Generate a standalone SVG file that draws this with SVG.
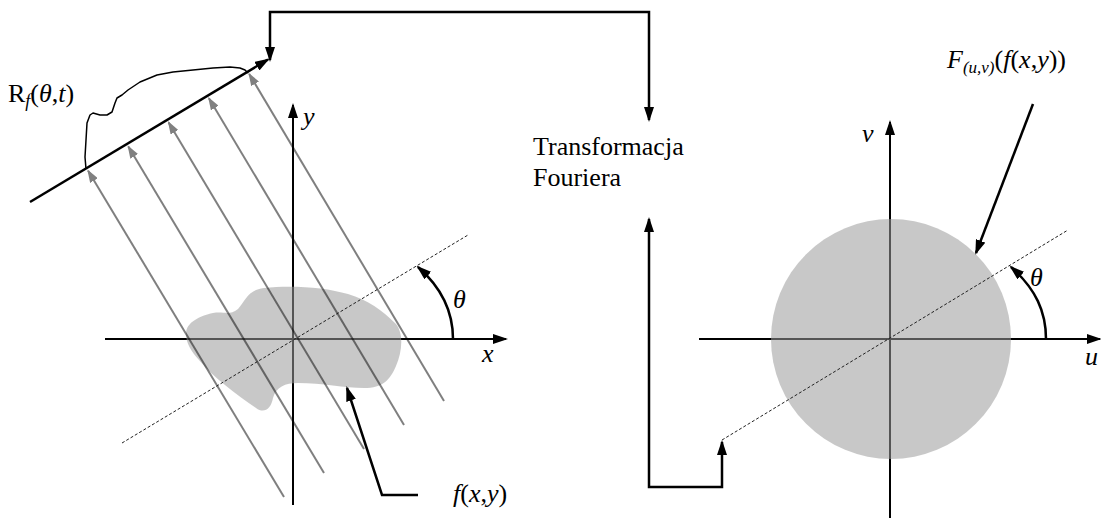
<svg xmlns="http://www.w3.org/2000/svg" width="1101" height="520" viewBox="0 0 1101 520">
<style>
.ax{stroke:#000;stroke-width:2;fill:none}
.con{stroke:#000;stroke-width:2.5;fill:none}
.ray{stroke:#000;stroke-opacity:0.5;stroke-width:2;fill:none}
.dash{stroke:#222;stroke-width:1;stroke-dasharray:3 2;fill:none}
.shade{fill:#9b9b9b;fill-opacity:0.55;stroke:none}
.t{font-family:"Liberation Serif","Times New Roman",serif;font-size:26px;fill:#000}
.i{font-style:italic}
</style>
<defs>
<marker id="ah" markerUnits="userSpaceOnUse" markerWidth="15" markerHeight="10" refX="13" refY="5" orient="auto-start-reverse"><path d="M0,0 L15,5 L0,10 z" fill="#000"/></marker>
<marker id="ag" markerUnits="userSpaceOnUse" markerWidth="13" markerHeight="9" refX="11.5" refY="4.5" orient="auto"><path d="M0,0 L13,4.5 L0,9 z" fill="#808080"/></marker>
</defs>
<rect width="1101" height="520" fill="#fff"/>

<g id="left-plot">
<line class="ax" x1="105" y1="339" x2="506" y2="339" marker-end="url(#ah)"/>
<line class="ax" x1="293" y1="505" x2="293" y2="105" marker-end="url(#ah)"/>
<path id="object-f" class="shade" d="M186,334 C186,322 200,316 213,313 C224,311 229,316 238,309 C246,300 248,290 264,288 C290,285 325,287 348,294 C368,300 382,310 396,324 C404,334 402,352 396,366 C390,380 383,388 364,388 C345,388 322,383 298,383 C285,383 276,387 273,398 C271,409 264,414 256,408 C236,394 214,378 199,360 C191,351 186,343 186,334 Z"/>
<g id="rays">
<line class="ray" x1="284" y1="497" x2="88.1" y2="170.7" marker-end="url(#ag)"/>
<line class="ray" x1="324" y1="473" x2="128.3" y2="146.5" marker-end="url(#ag)"/>
<line class="ray" x1="364" y1="449" x2="168.6" y2="122.4" marker-end="url(#ag)"/>
<line class="ray" x1="404" y1="425" x2="208.9" y2="98.2" marker-end="url(#ag)"/>
<line class="ray" x1="444" y1="401" x2="249.2" y2="74" marker-end="url(#ag)"/>
</g>
<line class="dash" x1="122" y1="443" x2="468" y2="235"/>
<path class="con" d="M453,339 C453,312 442,288 418,267" stroke-width="2.2" marker-end="url(#ah)"/>
<line id="detector" class="con" x1="30" y1="202" x2="268" y2="59.5" marker-end="url(#ah)"/>
<polyline id="projection" fill="none" stroke="#000" stroke-width="1.5" stroke-linejoin="round" points="86,169 85,157 86,140 87,123 90,115 93,113 100,115 107,115 112,112 115,103 117,98 122,95 128,90 140,82 157,75 173,72 193,70 213,68 230,67 240,68 245,70 248,73"/>
<text class="t" x="8" y="102">R<tspan class="i" font-size="18" dy="5">f</tspan><tspan dy="-5">(</tspan><tspan class="i">θ</tspan>,<tspan class="i">t</tspan>)</text>
<text class="t i" x="303" y="125">y</text>
<text class="t i" x="482" y="362">x</text>
<text class="t i" x="453" y="308">θ</text>
<text class="t" x="453" y="502"><tspan class="i">f</tspan>(<tspan class="i">x</tspan>,<tspan class="i">y</tspan>)</text>
</g>

<g id="label-transform">
<text class="t" x="533" y="155">Transformacja</text>
<text class="t" x="533" y="186">Fouriera</text>
</g>

<g id="right-plot">
<line class="ax" x1="699" y1="339" x2="1100" y2="339" marker-end="url(#ah)"/>
<line class="ax" x1="890" y1="518" x2="890" y2="122" marker-end="url(#ah)"/>
<circle id="spectrum" class="shade" cx="891" cy="339" r="120"/>
<line class="dash" x1="722" y1="440" x2="1068" y2="230"/>
<path class="con" d="M1046,339 C1046,312 1036,289 1011,267" stroke-width="2.2" marker-end="url(#ah)"/>
<text class="t i" x="862" y="142">v</text>
<text class="t i" x="1085" y="365">u</text>
<text class="t i" x="1030" y="286">θ</text>
<text class="t" x="947" y="68"><tspan class="i">F</tspan><tspan class="i" font-size="17" dy="5">(u,v)</tspan><tspan dy="-5">(</tspan><tspan class="i">f</tspan>(<tspan class="i">x</tspan>,<tspan class="i">y</tspan>))</text>
</g>

<g id="connectors">
<path class="con" d="M270,60 L270,12 L649,12 L649,120" marker-start="url(#ah)" marker-end="url(#ah)"/>
<path class="con" d="M649,219 L649,487 L722,487 L722,442" marker-start="url(#ah)" marker-end="url(#ah)"/>
<polyline class="con" points="418,495 382,495 347,388" marker-end="url(#ah)"/>
<line class="con" x1="1033" y1="104" x2="976" y2="253" marker-end="url(#ah)"/>
</g>
</svg>
